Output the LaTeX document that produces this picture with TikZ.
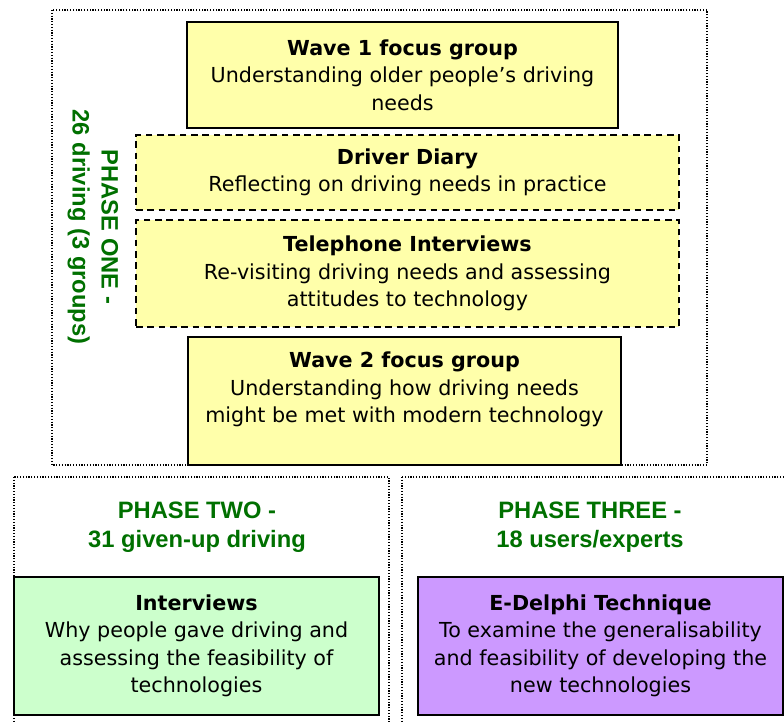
\documentclass[tikz,border=0pt]{standalone}
\usepackage{fontspec}
\setmainfont{DejaVu Sans}
\newfontfamily\phasefont{Liberation Sans}

\definecolor{wavefill}{RGB}{255,255,170}
\definecolor{talkfill}{RGB}{204,255,204}
\definecolor{delphifill}{RGB}{204,153,255}
\definecolor{phasegreen}{RGB}{0,112,0}

\tikzset{
  stagebox/.style={draw=black, line width=1.5pt, fill=wavefill, inner sep=0pt,
    align=center, font=\fontsize{15.5}{20.6}\selectfont},
  diarybox/.style={stagebox, line width=1.4pt, dash pattern=on 5pt off 3.5pt},
  phaseframe/.style={draw=black, line width=0.9pt, dash pattern=on 0.9pt off 1.2pt},
  phaselabel/.style={text=phasegreen, align=center,
    font=\phasefont\bfseries\fontsize{17.8}{21.75}\selectfont}
}

\begin{document}
\begin{tikzpicture}[x=0.75pt, y=-0.75pt]
      \useasboundingbox (0, 0) rectangle (784, 721);
      % phase frames
      \draw [phaseframe] (52, 10) rectangle (707, 465);
      \draw [phaseframe] (14, 477) rectangle (389, 730);
      \draw [phaseframe] (402, 477) rectangle (795, 730);
      % phase one
      \node [phaselabel, rotate=-90] (one) at (93, 227) {PHASE ONE -\\26 driving (3 groups)};
      \node [stagebox, minimum width=323.25pt, minimum height=79.5pt] (wave1) at (402.5, 75)
        {{\bfseries Wave 1 focus group}\\Understanding older people’s driving\\needs};
      \node [diarybox, minimum width=407.25pt, minimum height=56.25pt] (diary) at (407.5, 172.5)
        {{\bfseries Driver Diary}\\Reflecting on driving needs in practice};
      \node [diarybox, minimum width=407.25pt, minimum height=80.25pt] (phone) at (407.5, 273.5)
        {{\bfseries Telephone Interviews}\\Re-visiting driving needs and assessing\\attitudes to technology};
      \node [stagebox, minimum width=324.75pt, minimum height=96pt] (wave2) at (404.5, 401)
        {{\bfseries Wave 2 focus group}\\Understanding how driving needs\\might be met with modern technology\\\mbox{}};
      % phase two
      \node [phaselabel] (two) at (197, 527) {PHASE TWO -\\31 given-up driving};
      \node [stagebox, fill=talkfill, minimum width=273.75pt, minimum height=103.5pt] (talk) at (196.5, 646)
        {{\bfseries Interviews}\\Why people gave driving and\\assessing the feasibility of\\technologies};
      % phase three
      \node [phaselabel] (three) at (590, 527) {PHASE THREE -\\18 users/experts};
      \node [stagebox, fill=delphifill, minimum width=273.75pt, minimum height=103.5pt] (delphi) at (600.5, 646)
        {{\bfseries E-Delphi Technique}\\To examine the generalisability\\and feasibility of developing the\\new technologies};
    \end{tikzpicture}
\end{document}
